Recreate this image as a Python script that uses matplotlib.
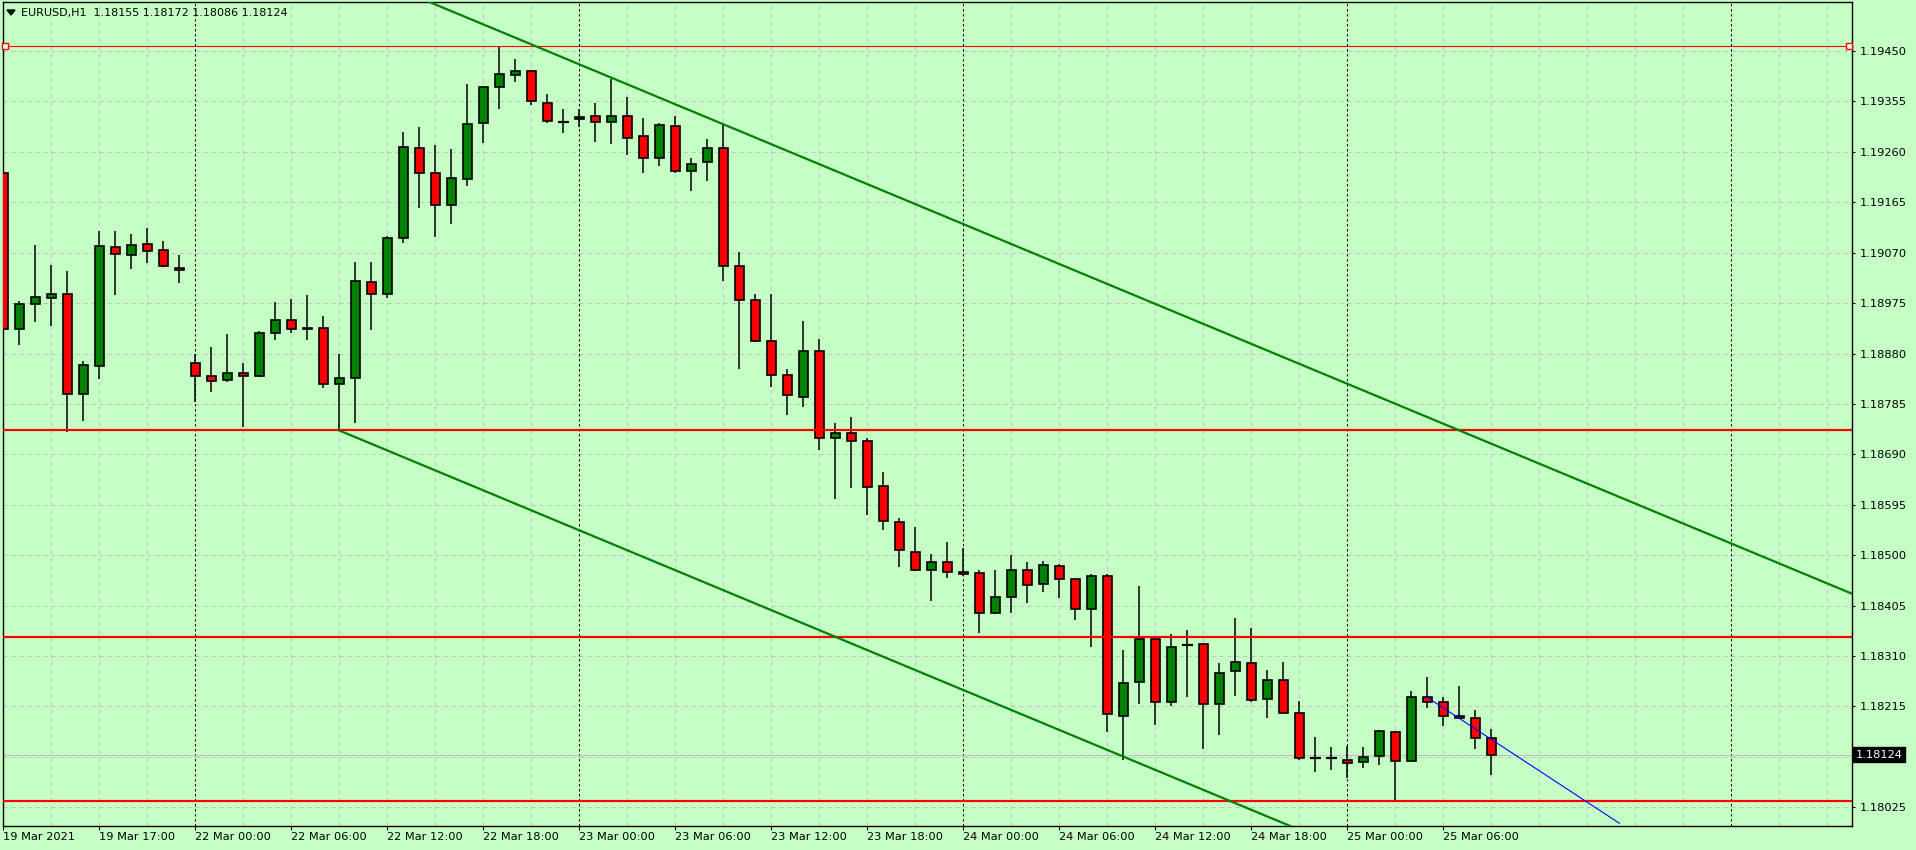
import numpy as np
import matplotlib
matplotlib.use("Agg")
import matplotlib.pyplot as plt
from matplotlib.patches import Polygon

# EURUSD H1 bars, 19 Mar 11:00 .. 25 Mar 09:00 (one entry per bar)
opens = [1.19221, 1.18926, 1.18973, 1.18984, 1.18992, 1.18803, 1.18856, 1.19080, 1.19065, 1.19086,
         1.19076, 1.19042, 1.18863, 1.18837, 1.18830, 1.18843, 1.18837, 1.18918, 1.18944, 1.18926,
         1.18928, 1.18822, 1.18833, 1.19014, 1.18992, 1.19097, 1.19267, 1.19221, 1.19159, 1.19208,
         1.19314, 1.19382, 1.19404, 1.19412, 1.19353, 1.19316, 1.19321, 1.19327, 1.19316, 1.19327,
         1.19289, 1.19248, 1.19308, 1.19223, 1.19240, 1.19267, 1.19044, 1.18980, 1.18903, 1.18839,
         1.18799, 1.18884, 1.18720, 1.18730, 1.18716, 1.18630, 1.18562, 1.18507, 1.18473, 1.18487,
         1.18468, 1.18466, 1.18392, 1.18421, 1.18473, 1.18445, 1.18479, 1.18455, 1.18398, 1.18460,
         1.18198, 1.18261, 1.18343, 1.18223, 1.18330, 1.18332, 1.18219, 1.18281, 1.18296, 1.18230,
         1.18264, 1.18202, 1.18117, 1.18117, 1.18115, 1.18110, 1.18121, 1.18166, 1.18112, 1.18232,
         1.18223, 1.18198, 1.18193, 1.18155]
highs = [1.19226, 1.18979, 1.19084, 1.19047, 1.19036, 1.18866, 1.19111, 1.19111, 1.19105, 1.19117,
         1.19092, 1.19066, 1.18880, 1.18892, 1.18917, 1.18863, 1.18922, 1.18977, 1.18983, 1.18990,
         1.18951, 1.18879, 1.19052, 1.19052, 1.19101, 1.19297, 1.19307, 1.19273, 1.19265, 1.19387,
         1.19385, 1.19459, 1.19435, 1.19414, 1.19369, 1.19341, 1.19341, 1.19352, 1.19397, 1.19363,
         1.19324, 1.19314, 1.19328, 1.19248, 1.19284, 1.19312, 1.19071, 1.18993, 1.18992, 1.18851,
         1.18941, 1.18907, 1.18750, 1.18760, 1.18720, 1.18657, 1.18570, 1.18554, 1.18502, 1.18525,
         1.18513, 1.18472, 1.18472, 1.18500, 1.18487, 1.18489, 1.18483, 1.18456, 1.18464, 1.18464,
         1.18321, 1.18442, 1.18346, 1.18351, 1.18359, 1.18333, 1.18296, 1.18381, 1.18363, 1.18283,
         1.18298, 1.18225, 1.18158, 1.18138, 1.18140, 1.18138, 1.18170, 1.18168, 1.18245, 1.18270,
         1.18232, 1.18253, 1.18208, 1.18172]
lows = [1.18918, 1.18896, 1.18940, 1.18932, 1.18733, 1.18753, 1.18832, 1.18991, 1.19040, 1.19051,
        1.19043, 1.19013, 1.18789, 1.18808, 1.18826, 1.18742, 1.18835, 1.18906, 1.18919, 1.18906,
        1.18816, 1.18735, 1.18750, 1.18924, 1.18985, 1.19089, 1.19155, 1.19100, 1.19125, 1.19196,
        1.19277, 1.19341, 1.19392, 1.19349, 1.19315, 1.19296, 1.19307, 1.19279, 1.19275, 1.19255,
        1.19221, 1.19234, 1.19221, 1.19187, 1.19206, 1.19017, 1.18851, 1.18901, 1.18817, 1.18765,
        1.18779, 1.18699, 1.18606, 1.18627, 1.18576, 1.18548, 1.18478, 1.18470, 1.18414, 1.18458,
        1.18461, 1.18354, 1.18389, 1.18391, 1.18410, 1.18431, 1.18420, 1.18378, 1.18328, 1.18167,
        1.18115, 1.18219, 1.18181, 1.18215, 1.18232, 1.18135, 1.18162, 1.18234, 1.18223, 1.18193,
        1.18200, 1.18115, 1.18091, 1.18095, 1.18080, 1.18099, 1.18104, 1.18037, 1.18110, 1.18213,
        1.18179, 1.18191, 1.18134, 1.18086]
closes = [1.18926, 1.18973, 1.18986, 1.18992, 1.18803, 1.18858, 1.19082, 1.19067, 1.19084, 1.19074,
          1.19044, 1.19037, 1.18837, 1.18828, 1.18843, 1.18837, 1.18918, 1.18943, 1.18926, 1.18929,
          1.18822, 1.18833, 1.19016, 1.18992, 1.19097, 1.19269, 1.19221, 1.19159, 1.19210, 1.19312,
          1.19383, 1.19406, 1.19412, 1.19355, 1.19318, 1.19316, 1.19325, 1.19316, 1.19327, 1.19286,
          1.19248, 1.19310, 1.19223, 1.19238, 1.19267, 1.19044, 1.18980, 1.18903, 1.18839, 1.18801,
          1.18884, 1.18720, 1.18730, 1.18716, 1.18628, 1.18564, 1.18509, 1.18473, 1.18487, 1.18468,
          1.18464, 1.18391, 1.18421, 1.18473, 1.18443, 1.18481, 1.18456, 1.18398, 1.18460, 1.18200,
          1.18259, 1.18343, 1.18223, 1.18328, 1.18330, 1.18219, 1.18279, 1.18298, 1.18228, 1.18264,
          1.18202, 1.18117, 1.18117, 1.18117, 1.18108, 1.18119, 1.18168, 1.18112, 1.18232, 1.18223,
          1.18198, 1.18193, 1.18155, 1.18124]

time_labels = ["19 Mar 2021", "19 Mar 17:00", "22 Mar 00:00", "22 Mar 06:00", "22 Mar 12:00",
               "22 Mar 18:00", "23 Mar 00:00", "23 Mar 06:00", "23 Mar 12:00", "23 Mar 18:00",
               "24 Mar 00:00", "24 Mar 06:00", "24 Mar 12:00", "24 Mar 18:00", "25 Mar 00:00",
               "25 Mar 06:00"]
day_starts = [12, 36, 60, 84, 108]     # bar index of each 00:00 (period separators)

price_ticks = [1.18025, 1.18120, 1.18215, 1.18310, 1.18405, 1.18500, 1.18595, 1.18690,
               1.18785, 1.18880, 1.18975, 1.19070, 1.19165, 1.19260, 1.19355, 1.19450]

# drawn objects
red_levels = [1.19459, 1.18735, 1.18346, 1.18037]
red_widths = [1.0, 2.0, 2.0, 2.0]
channel_upper = (45, 1.19312)
channel_lower = (21, 1.18735)
channel_slope = -0.0001254           # price per bar
blue_line = ([89, 101], [1.18232, 1.17995])

symbol = "EURUSD,H1"
bid = 1.18124

BG = "#c6ffc6"
GRID = "#c0c0c0"
PX = 0.72  # one pixel in points at dpi 100

fig = plt.figure(figsize=(19.16, 8.5), dpi=100, facecolor=BG)
ax = fig.add_axes([2.7 / 1916, 24 / 850, (1852 - 2.7) / 1916, (826 - 2.3) / 850])
ax.set_facecolor(BG)

n = len(opens)
x = np.arange(n)
o = np.array(opens)
h = np.array(highs)
l = np.array(lows)
c = np.array(closes)

ax.set_xlim(-0.04, 115.54)
ax.set_ylim(1.179898, 1.195418)

# grid
for k in range(0, 116, 3):
    if k in day_starts:
        continue
    ax.axvline(k, color=GRID, lw=PX, ls=(0, (4, 4)), zorder=0.5)
for p in price_ticks:
    ax.axhline(p, color=GRID, lw=PX, ls=(0, (4, 4)), zorder=0.5)
for k in day_starts:
    ax.axvline(k, color="black", lw=PX, ls=(0, (2.5, 2.5)), zorder=0.6)

# bid line
ax.axhline(bid, color=GRID, lw=PX, zorder=0.7)

# candles
bw = 0.6
ax.vlines(x, l, h, colors="black", lw=1.1, zorder=2)
up = c > o
down = c < o
doji = c == o
ax.bar(x[up], (c - o)[up], bottom=o[up], width=bw, color="#008000",
       edgecolor="black", linewidth=1.2, zorder=3)
ax.bar(x[down], (o - c)[down], bottom=c[down], width=bw, color="#ff0000",
       edgecolor="black", linewidth=1.2, zorder=3)
ax.hlines(c[doji], x[doji] - bw / 2 - 0.05, x[doji] + bw / 2 + 0.05, colors="black", lw=1.6, zorder=3)

# horizontal levels
for p, w in zip(red_levels, red_widths):
    ax.axhline(p, color="#ff0000", lw=w * PX * 1.1, zorder=4)
x0, x1 = ax.get_xlim()
ax.plot([x0 + 0.15, x1 - 0.2], [red_levels[0]] * 2, ls="none", marker="s", ms=4,
        mfc="white", mec="#ff0000", mew=1.0, zorder=5, clip_on=False)

# channel
xs = np.array([0, 116])
ax.plot(xs, channel_upper[1] + channel_slope * (xs - channel_upper[0]),
        color="#008000", lw=2 * PX * 1.1, zorder=4)
xs = np.array([channel_lower[0], 116])
ax.plot(xs, channel_lower[1] + channel_slope * (xs - channel_lower[0]),
        color="#008000", lw=2 * PX * 1.1, zorder=4)

# trend line
ax.plot(blue_line[0], blue_line[1], color="#0000ff", lw=PX * 1.1, zorder=5)

# axes
for s in ax.spines.values():
    s.set_color("black")
    s.set_linewidth(1.0)

ax.yaxis.tick_right()
ax.set_yticks(price_ticks)
# the tick label under the bid box is covered in the terminal, so leave it blank
ylabels = []
for p in price_ticks:
    if abs(p - bid) < 0.0002:
        ylabels.append("")
    else:
        ylabels.append("%.5f" % p)
ax.set_yticklabels(ylabels)
ax.tick_params(axis="y", direction="out", length=2.5, width=0.8, pad=3, labelsize=8.2)

ax.set_xticks(np.arange(len(time_labels)) * 6)
ax.set_xticklabels(time_labels, ha="left")
ax.tick_params(axis="x", direction="out", length=3, width=0.8, pad=1.5, labelsize=8.2)

# bid label on the price scale
ax.annotate("%.5f" % bid, xy=(1.0, bid), xycoords=("axes fraction", "data"),
            xytext=(2.6, 0), textcoords="offset points", ha="left", va="center",
            color="white", fontsize=8.2, zorder=10,
            bbox=dict(boxstyle="square,pad=0.22", fc="black", ec="black"))

# chart caption
fig.text(21 / 1916, 1 - 12.7 / 850,
         "%s  %.5f %.5f %.5f %.5f" % (symbol, opens[-1], highs[-1], lows[-1], closes[-1]),
         va="center", ha="left", fontsize=8.0)
fig.add_artist(Polygon([[7 / 1916, 1 - 10 / 850], [15 / 1916, 1 - 10 / 850], [11 / 1916, 1 - 15 / 850]],
                       closed=True, color="black", transform=fig.transFigure))

fig.savefig("out.png", dpi=100, facecolor=BG)
